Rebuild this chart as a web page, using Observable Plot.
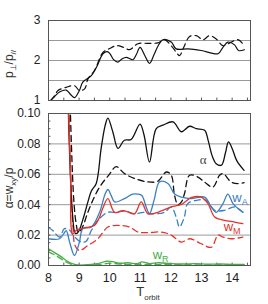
<!DOCTYPE html>
<html><head><meta charset="utf-8">
<script src="https://cdn.jsdelivr.net/npm/d3@7"></script>
<script src="https://cdn.jsdelivr.net/npm/@observablehq/plot@0.6"></script>
<style>
body{margin:0;background:#fff;}
#chart{position:relative;width:268px;height:304px;overflow:hidden;}
#chart svg{position:absolute;left:0;}
</style></head><body><div id="chart"></div>
<script>
// ---- data (T_orbit, value) ----
const topSolid = [[8.07,1.0],[8.2,1.1],[8.36,1.21],[8.58,1.26],[8.72,1.15],[8.85,1.07],[9.01,1.25],[9.12,1.46],[9.4,1.62],[9.58,1.85],[9.78,2.17],[9.92,2.22],[10.0,2.18],[10.12,2.03],[10.27,1.96],[10.4,2.04],[10.54,2.08],[10.76,2.02],[10.87,2.15],[10.99,2.33],[11.15,2.12],[11.3,1.93],[11.45,2.15],[11.57,2.35],[11.74,2.52],[12.01,2.46],[12.17,2.29],[12.56,2.29],[12.99,2.25],[13.54,2.17],[13.7,2.33],[13.86,2.46],[14.08,2.39],[14.21,2.25],[14.4,2.27]];
const topDashed = [[8.07,1.0],[8.2,1.12],[8.31,1.25],[8.58,1.33],[8.85,1.37],[9.01,1.25],[9.18,1.29],[9.29,1.54],[9.5,1.75],[9.78,2.2],[10.0,2.3],[10.21,2.37],[10.45,2.33],[10.65,2.27],[10.92,2.42],[11.25,2.43],[11.57,2.44],[11.79,2.52],[12.01,2.37],[12.2,2.18],[12.28,2.12],[12.42,2.33],[12.61,2.6],[12.83,2.62],[13.05,2.52],[13.26,2.62],[13.48,2.54],[13.7,2.37],[13.97,2.46],[14.19,2.52],[14.4,2.37]];

const alphaSolid = [[8.62,0.125],[8.78,0.035],[8.88,0.021],[8.97,0.022],[9.12,0.030],[9.29,0.042],[9.4,0.049],[9.56,0.054],[9.72,0.077],[9.85,0.092],[9.94,0.097],[10.1,0.088],[10.27,0.077],[10.48,0.0824],[10.7,0.0829],[10.99,0.093],[11.12,0.086],[11.3,0.068],[11.52,0.090],[11.74,0.0923],[12.07,0.0945],[12.34,0.088],[12.61,0.0916],[12.83,0.090],[13.1,0.089],[13.22,0.082],[13.35,0.072],[13.48,0.067],[13.65,0.066],[13.78,0.074],[13.88,0.0813],[14.0,0.077],[14.15,0.069],[14.39,0.0626]];
const alphaDashed = [[8.68,0.125],[8.82,0.045],[8.9,0.028],[8.97,0.022],[9.05,0.023],[9.15,0.027],[9.25,0.033],[9.4,0.0407],[9.67,0.0516],[9.99,0.060],[10.21,0.065],[10.48,0.0605],[10.81,0.0572],[11.25,0.055],[11.57,0.0554],[11.85,0.0615],[12.01,0.0594],[12.12,0.046],[12.23,0.040],[12.35,0.042],[12.44,0.047],[12.61,0.0594],[12.88,0.0582],[13.1,0.0549],[13.37,0.0516],[13.59,0.0594],[13.7,0.0605],[13.97,0.0549],[14.19,0.0539],[14.39,0.0545]];
const wASolid = [[8.0,0.0176],[8.36,0.0176],[8.5,0.021],[8.58,0.023],[8.69,0.0154],[8.85,0.0066],[9.01,0.0154],[9.12,0.0242],[9.4,0.0253],[9.67,0.035],[9.85,0.047],[9.94,0.050],[10.05,0.046],[10.16,0.0418],[10.48,0.044],[10.75,0.047],[10.92,0.047],[11.05,0.046],[11.2,0.038],[11.3,0.034],[11.45,0.043],[11.63,0.055],[11.9,0.054],[12.12,0.047],[12.34,0.045],[12.66,0.044],[13.1,0.045],[13.32,0.0384],[13.48,0.035],[13.7,0.0407],[13.86,0.047],[14.03,0.0407],[14.35,0.035]];
const wADashed = [[8.0,0.025],[8.14,0.023],[8.36,0.0187],[8.52,0.0242],[8.68,0.0235],[8.8,0.020],[9.07,0.0154],[9.23,0.016],[9.4,0.023],[9.61,0.0297],[9.94,0.035],[10.16,0.035],[10.48,0.036],[10.81,0.034],[11.1,0.035],[11.41,0.034],[11.79,0.035],[12.01,0.0385],[12.17,0.032],[12.28,0.0253],[12.44,0.032],[12.55,0.0407],[12.88,0.043],[13.15,0.043],[13.43,0.0363],[13.75,0.0363],[14.08,0.0385],[14.35,0.035]];
const wMSolid = [[8.62,0.125],[8.72,0.060],[8.79,0.021],[8.9,0.023],[9.0,0.024],[9.23,0.025],[9.5,0.0264],[9.65,0.031],[9.78,0.038],[9.94,0.044],[10.16,0.035],[10.48,0.036],[10.81,0.034],[11.03,0.0418],[11.25,0.034],[11.57,0.035],[12.01,0.0385],[12.34,0.0402],[12.66,0.0446],[12.99,0.045],[13.21,0.0407],[13.43,0.0319],[13.75,0.0297],[14.08,0.0286],[14.35,0.0275]];
const wMDashed = [[8.64,0.125],[8.72,0.065],[8.8,0.025],[8.87,0.013],[9.01,0.0099],[9.29,0.0132],[9.61,0.0176],[9.94,0.0253],[10.27,0.0264],[10.65,0.0253],[10.92,0.022],[11.25,0.0216],[11.68,0.022],[12.01,0.020],[12.34,0.0154],[12.61,0.0176],[12.99,0.0143],[13.32,0.012],[13.54,0.020],[13.7,0.0187],[13.97,0.0176],[14.35,0.0187]];
const wRSolid = [[8.0,0.011],[8.2,0.0085],[8.4,0.006],[8.6,0.003],[8.8,0.001],[9.0,0.0003],[9.3,0.0005],[9.6,0.0012],[9.9,0.0028],[10.1,0.0025],[10.3,0.0015],[10.6,0.0018],[10.9,0.0012],[11.05,0.0024],[11.3,0.0013],[11.6,0.0018],[12.0,0.0012],[12.4,0.0010],[12.8,0.0012],[13.2,0.0009],[13.6,0.0010],[14.0,0.0008],[14.4,0.0008]];
const wRDashed = [[8.0,0.009],[8.2,0.007],[8.4,0.0045],[8.6,0.002],[8.8,0.0005],[9.0,0.0001],[9.4,0.0003],[9.8,0.001],[10.0,0.0015],[10.4,0.0008],[10.8,0.0006],[11.2,0.0008],[11.6,0.0005],[12.0,0.0006],[12.6,0.0005],[13.2,0.0004],[13.8,0.0005],[14.4,0.0004]];

const topYTicks = [1, 2, 3];
const topGrid = [1.5, 2, 2.5];
const botYTicks = [0, 0.02, 0.04, 0.06, 0.08, 0.10];
const botGrid = [0.02, 0.04, 0.06, 0.08];
const xTicks = [8, 9, 10, 11, 12, 13, 14];
const xMinor = d3.range(8, 14.55, 0.5);
const yMinor = d3.range(0, 0.1001, 0.005);
const labels = [
  {x: 12.96, y: 0.0692, main: "α", sub: "", color: "#444"},
  {x: 14.02, y: 0.0442, main: "w", sub: "A", color: "#3b7fc4"},
  {x: 13.74, y: 0.0250, main: "w", sub: "M", color: "#e5332a"},
  {x: 11.42, y: 0.0066, main: "w", sub: "R", color: "#45ad45"}
];

// ---- style ----
const font = "'Liberation Sans Narrow','Arial Narrow','Liberation Sans',Arial,sans-serif";
const frameColor = "#555", gridColor = "#999";
const black = "#111", red = "#e5332a", blue = "#3b7fc4", green = "#45ad45";
const xDomain = [8, 14.6];
const dash = "6,4";
const X = d => d[0], Y = d => d[1];
const ln = (data, stroke, dashed, w = 1.3) => Plot.line(data, {x: X, y: Y, stroke, strokeWidth: w, curve: "catmull-rom", clip: true, strokeDasharray: dashed ? dash : null});

const chart = document.getElementById("chart");

const topPlot = Plot.plot({
  width: 268, height: 109, marginTop: 20, marginBottom: 9, marginLeft: 48, marginRight: 18,
  style: {fontFamily: font, fontSize: "12px", color: "#222", background: "transparent"},
  x: {domain: xDomain, axis: null},
  y: {domain: [1, 3]},
  marks: [
    Plot.ruleY(topGrid, {stroke: gridColor, strokeWidth: 1}),
    Plot.ruleX(xMinor, {y1: 1, y2: 1.06, stroke: frameColor}),
    ln(topSolid, black, false, 1.2),
    ln(topDashed, black, true, 1.2),
    Plot.frame({stroke: frameColor}),
    Plot.axisY(topYTicks, {tickSize: 0, tickPadding: 8, label: null, fontSize: 12})
  ]
});
topPlot.style.top = "0px";
chart.appendChild(topPlot);

const botPlot = Plot.plot({
  width: 268, height: 201, marginTop: 10, marginBottom: 39, marginLeft: 48, marginRight: 18,
  style: {fontFamily: font, fontSize: "12px", color: "#222", background: "transparent"},
  x: {domain: xDomain},
  y: {domain: [0, 0.10]},
  marks: [
    Plot.ruleY(botGrid, {stroke: gridColor, strokeWidth: 1}),
    Plot.ruleX(xMinor, {y1: 0, y2: 0.0016, stroke: frameColor}),
    Plot.ruleY(yMinor, {x1: 8, x2: 8.08, stroke: frameColor}),
    ln(wRDashed, green, true),
    ln(wRSolid, green, false),
    ln(wMDashed, red, true),
    ln(wADashed, blue, true),
    ln(alphaDashed, black, true),
    ln(alphaSolid, black, false),
    ln(wASolid, blue, false),
    ln(wMSolid, red, false),
    Plot.frame({stroke: frameColor}),
    Plot.axisY(botYTicks, {tickSize: 0, tickPadding: 8, label: null, fontSize: 12, tickFormat: d3.format(".2f")}),
    Plot.axisX(xTicks, {tickSize: 0, tickPadding: 8, label: null, fontSize: 12.5, tickFormat: d => d})
  ]
});
botPlot.style.top = "103px";
chart.appendChild(botPlot);

// ---- text with subscripts ----
function richText(svg, x, y, parts, opts) {
  const t = d3.select(svg).append("text")
    .attr("font-family", opts.family || font)
    .attr("font-size", opts.size)
    .attr("fill", opts.color)
    .attr("text-anchor", opts.anchor || "start")
    .attr("transform", `translate(${x},${y})` + (opts.rotate ? ` rotate(${opts.rotate})` : ""));
  let shifted = false;
  for (const [s, sub] of parts) {
    const sp = t.append("tspan").text(s);
    if (sub && !shifted) { sp.attr("dy", opts.subShift || 3).attr("font-size", opts.subSize); shifted = true; }
    else if (sub) { sp.attr("font-size", opts.subSize); }
    else if (!sub && shifted) { sp.attr("dy", -(opts.subShift || 3)); shifted = false; }
  }
}

// axis titles
richText(topPlot, 13, 64, [["p", 0], ["⊥", 1], ["/p", 0], ["//", 1]],
  {size: 12, subSize: 8, color: "#333", anchor: "middle", rotate: -90});
richText(botPlot, 13, 85, [["α=w", 0], ["xy", 1], ["/p", 0]],
  {size: 12, subSize: 8, color: "#333", anchor: "middle", rotate: -90});
richText(botPlot, 148, 193, [["T", 0], ["orbit", 1]],
  {size: 13, subSize: 8, color: "#333", anchor: "middle", subShift: 4});

// series labels via scales
const sx = botPlot.scale("x"), sy = botPlot.scale("y");
for (const L of labels) {
  const parts = L.sub ? [[L.main, 0], [L.sub, 1]] : [[L.main, 0]];
  richText(botPlot, sx.apply(L.x), sy.apply(L.y) + 4, parts,
    {size: 13, subSize: 9, color: L.color, family: L.sub ? "'Liberation Sans',Arial,sans-serif" : "'Liberation Serif',serif", subShift: 3});
}
</script></body></html>
